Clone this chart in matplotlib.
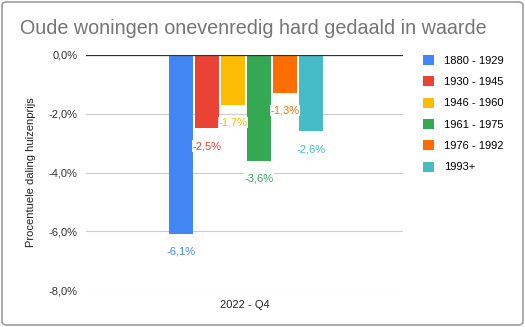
import matplotlib.pyplot as plt
from matplotlib.patches import FancyBboxPatch
import numpy as np

periods = ["1880 - 1929", "1930 - 1945", "1946 - 1960", "1961 - 1975", "1976 - 1992", "1993+"]
values = [-6.1, -2.5, -1.7, -3.6, -1.3, -2.6]
colors = ["#4285f4", "#ea4335", "#fbbc04", "#34a853", "#ff6d01", "#46bdc6"]
yticks = [0, -2, -4, -6, -8]

plt.rcParams['font.family'] = ['Liberation Sans', 'DejaVu Sans']

fig = plt.figure(figsize=(5.25, 3.27), dpi=100)
ax = fig.add_axes([86 / 525, 1 - 290 / 327, 317 / 525, 235 / 327])

# outer border like the spreadsheet export
fig.patches.append(FancyBboxPatch((2 / 525, 2 / 327), 521 / 525, 323 / 327,
                                  boxstyle="round,pad=0,rounding_size=0.01",
                                  transform=fig.transFigure, fill=False,
                                  edgecolor="#9e9e9e", linewidth=1.2))

bar_w = 24
gap = 2
x0 = 169 - 86
xs = [x0 + i * (bar_w + gap) + bar_w / 2 for i in range(len(values))]
for x, v, c, p in zip(xs, values, colors, periods):
    ax.bar(x, v, width=bar_w, color=c, label=p, zorder=3)
    t = ax.text(x, v - 0.6, f"{v:.1f}%".replace(".", ","), ha="center", va="center",
                color=c, fontsize=8, zorder=4)
    t.set_bbox(dict(facecolor="white", edgecolor="none", pad=0.5, alpha=0.9))

ax.set_xlim(0, 317)
ax.set_ylim(-8, 0)
ax.set_yticks(yticks)
ax.set_yticklabels([f"{t:.1f}%".replace(".", ",") for t in yticks], fontsize=8, color="#333333")
ax.set_xticks([])
ax.grid(axis="y", color="#cccccc", linewidth=0.8, zorder=0)
ax.tick_params(axis="y", length=0, pad=6)
for s in ["top", "right", "bottom", "left"]:
    ax.spines[s].set_visible(False)
ax.axhline(0, color="#333333", linewidth=0.9, zorder=5)
ax.set_xlabel("2022 - Q4", fontsize=8, color="#222222", labelpad=7)
ax.set_ylabel("Procentuele daling huizenprijs", fontsize=8, color="#222222", labelpad=9)

fig.text(20 / 525, 1 - 28 / 327, "Oude woningen onevenredig hard gedaald in waarde",
         fontsize=14.2, color="#757575", va="center", ha="left")

ax.legend(loc="upper left", bbox_to_anchor=(413 / 525, 1 - 45 / 327),
          bbox_transform=fig.transFigure, frameon=False, fontsize=8,
          handlelength=1.0, handleheight=1.0, labelspacing=0.95, handletextpad=0.9)

fig.savefig("out.png", dpi=100)
